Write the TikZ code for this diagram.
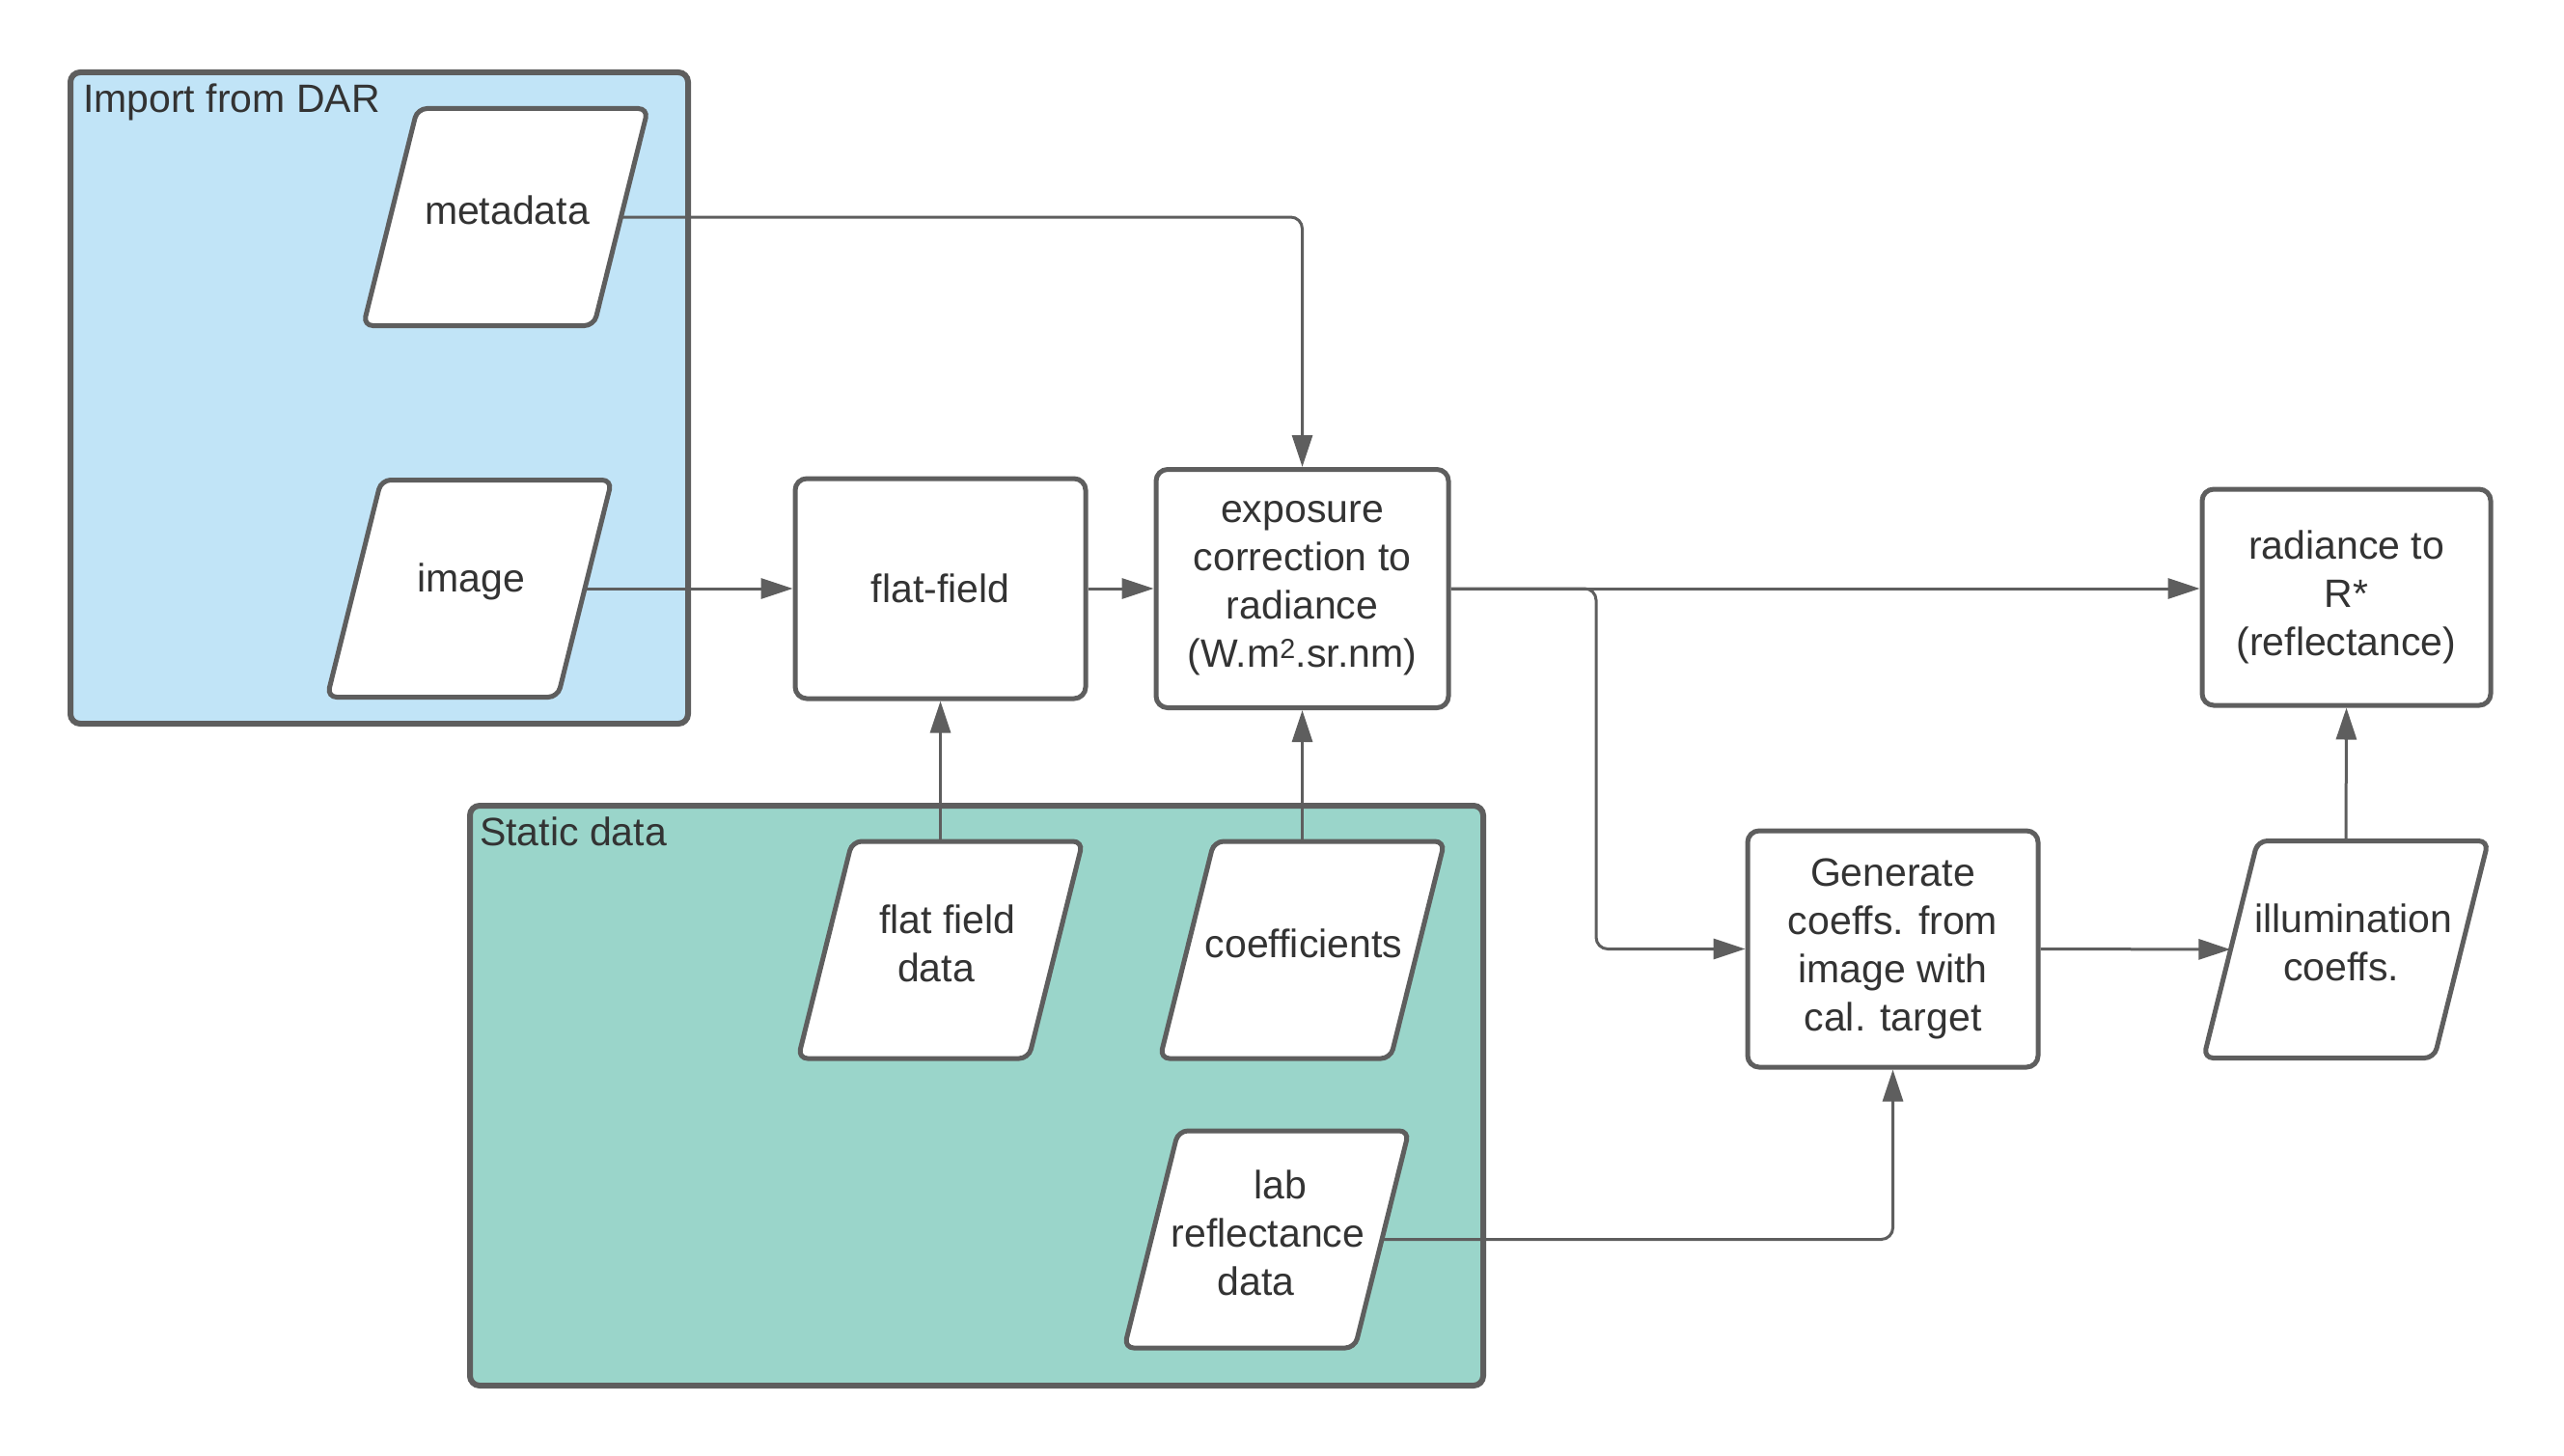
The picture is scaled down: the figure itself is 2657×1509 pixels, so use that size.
\documentclass[tikz,border=0pt]{standalone}
\usepackage{fontspec}
\setmainfont{Liberation Sans}
\usetikzlibrary{arrows.meta}

\definecolor{edge}{HTML}{5E5E5E}
\definecolor{ink}{HTML}{333333}
\definecolor{darfill}{HTML}{C1E4F7}
\definecolor{staticfill}{HTML}{9AD5CA}

% data item: a slanted (parallelogram) outline with a named frame node whose
% east/west/north/south anchors sit on the outline, and its text set a little high
\newcommand\dataitem[4]{%
  \filldraw[datashape,shift={(#2,#3)}]
    (-91.5,-112.5) -- (147.5,-112.5) -- (91.5,112.5) -- (-147.5,112.5) -- cycle;
  \node[dataframe] (#1) at (#2,#3) {};
  \node[datatext] (#1-text) at (#2+1.5,#3-7) {#4};%
}

\begin{document}
\begin{tikzpicture}[x=1pt,y=-1pt,
  every node/.style={font=\fontsize{41}{50}\selectfont, text=ink},
  group/.style={draw=edge, line width=6pt, rounded corners=10pt, inner sep=0pt},
  grouplabel/.style={anchor=base west, inner sep=0pt},
  procbox/.style={draw=edge, line width=5pt, fill=white, rounded corners=12pt,
                  align=center, inner sep=0pt},
  datashape/.style={draw=edge, fill=white, line width=5pt, rounded corners=10pt},
  dataframe/.style={minimum width=239pt, minimum height=225pt, inner sep=0pt},
  datatext/.style={inner sep=0pt, align=center},
  conn/.style={draw=edge, line width=3pt, -{Triangle[length=33pt,width=21pt]}},
  link/.style={draw=edge, line width=3pt}
]
\useasboundingbox (0,0) rectangle (2657,1509);

% containers
\node[group, fill=darfill, minimum width=640pt, minimum height=675pt] (dar) at (393,412.5) {};
\node[grouplabel] (darlabel) at (86,117) {Import from DAR};
\node[group, fill=staticfill, minimum width=1050pt, minimum height=601pt] (static) at (1012,1135.5) {};
\node[grouplabel] (staticlabel) at (497,876) {Static data};

% data items (lines follow the slant of the outline)
\dataitem{meta}{524}{225}{metadata}
\dataitem{img}{486.5}{610}{image}
\dataitem{ffd}{974.5}{984.5}{\hspace*{12pt}flat field\\data\hspace*{12pt}}
\dataitem{coef}{1349.5}{984.5}{coefficients}
\dataitem{lab}{1312.5}{1284.5}{\hspace*{25pt}lab\\reflectance\\data\hspace*{25pt}}
\dataitem{illum}{2431}{984}{\hspace*{13pt}illumination\\coeffs.\hspace*{13pt}}

% processing steps
\node[procbox, minimum width=301pt, minimum height=228pt] (flat) at (974.5,610) {flat-field};
\node[procbox, minimum width=303pt, minimum height=247pt] (expo) at (1349.5,610)
  {exposure\\correction to\\radiance\\(W.m\textsuperscript{2}.sr.nm)};
\node[procbox, minimum width=299pt, minimum height=224pt] (rad) at (2431.5,619)
  {radiance to\\R*\\(reflectance)};
\node[procbox, minimum width=301pt, minimum height=245pt] (gen) at (1961.5,983.5)
  {Generate\\coeffs. from\\image with\\cal. target};

\coordinate (split) at (1654,610);

% connectors
\draw[conn, rounded corners=12pt] (meta.east) -| (expo.north);
\draw[conn] (img.east) -- (flat.west);
\draw[conn] (flat.east) -- (expo.west);
\draw[conn] (ffd.north) -- (flat.south);
\draw[conn] (coef.north) -- (expo.south);
\draw[conn] (expo.east) -- (expo.east -| rad.west);
\draw[conn, rounded corners=12pt] (expo.east) -- (split) |- (gen.west);
\draw[conn] (gen.east) -- (illum.west);
\draw[conn] (illum.north) -- (rad.south);
\draw[conn, rounded corners=12pt] (lab.east) -| (gen.south);
\end{tikzpicture}
\end{document}
